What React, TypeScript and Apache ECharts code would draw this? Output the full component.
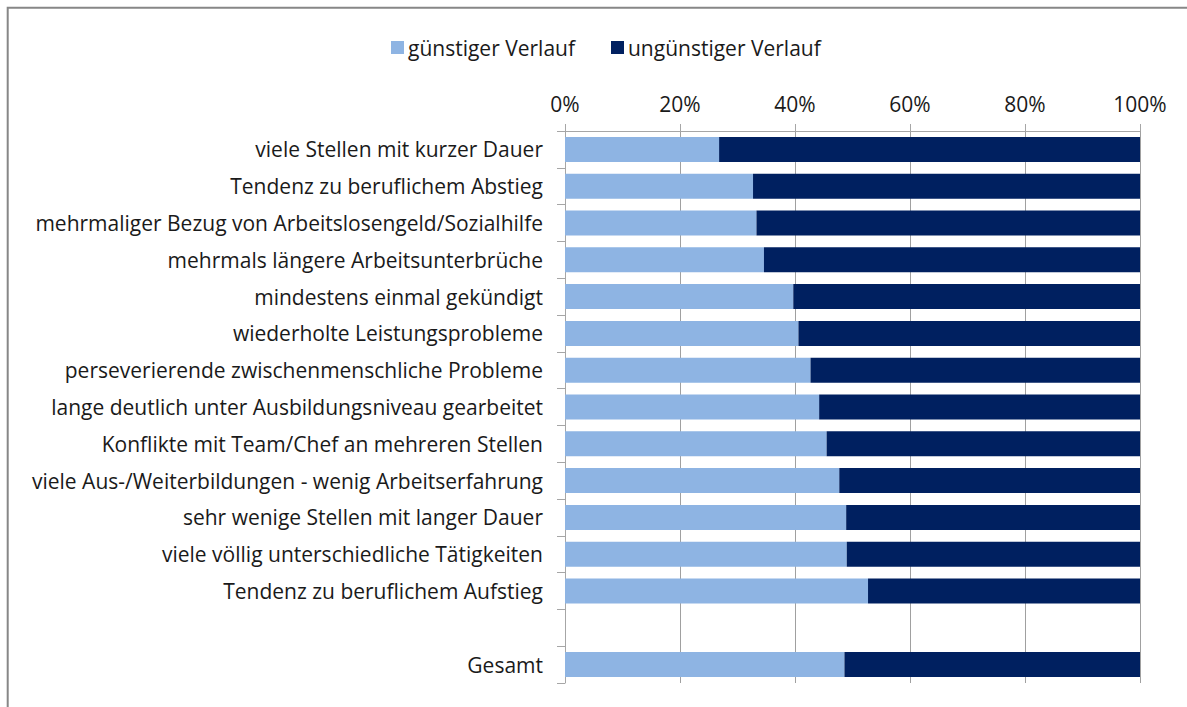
import React, { useEffect, useRef } from "react";
import * as echarts from "echarts";

const categories = [
  "viele Stellen mit kurzer Dauer",
  "Tendenz zu beruflichem Abstieg",
  "mehrmaliger Bezug von Arbeitslosengeld/Sozialhilfe",
  "mehrmals längere Arbeitsunterbrüche",
  "mindestens einmal gekündigt",
  "wiederholte Leistungsprobleme",
  "perseverierende zwischenmenschliche Probleme",
  "lange deutlich unter Ausbildungsniveau gearbeitet",
  "Konflikte mit Team/Chef an mehreren Stellen",
  "viele Aus-/Weiterbildungen - wenig Arbeitserfahrung",
  "sehr wenige Stellen mit langer Dauer",
  "viele völlig unterschiedliche Tätigkeiten",
  "Tendenz zu beruflichem Aufstieg",
  "",
  "Gesamt",
];

const favorable: (number | null)[] = [
  26.8, 32.7, 33.3, 34.6, 39.7, 40.6, 42.7, 44.2, 45.5, 47.7, 48.9, 49.0, 52.7, null, 48.6,
];

const unfavorable: (number | null)[] = [
  73.2, 67.3, 66.7, 65.4, 60.3, 59.4, 57.3, 55.8, 54.5, 52.3, 51.1, 51.0, 47.3, null, 51.4,
];

const seriesNames = ["günstiger Verlauf", "ungünstiger Verlauf"];
const xTicks = [0, 20, 40, 60, 80, 100];

const FONT = "Open Sans";
const FS = 21;

export default function App() {
  const ref = useRef<HTMLDivElement>(null);
  useEffect(() => {
    if (!ref.current) return;
    const chart = echarts.init(ref.current, undefined, { renderer: "svg" });
    chart.setOption({
      animation: false,
      backgroundColor: "#ffffff",
      textStyle: { fontFamily: FONT },
      legend: {
        top: 32,
        left: 386,
        itemWidth: 13,
        itemHeight: 13,
        itemGap: 36,
        icon: "rect",
        textStyle: { fontFamily: FONT, fontSize: FS, color: "#1a1a1a", padding: [0, 0, 0, -1] },
        data: seriesNames,
      },
      grid: { left: 565, right: 47, top: 131, bottom: 24, containLabel: false },
      xAxis: {
        type: "value",
        position: "top",
        min: xTicks[0],
        max: xTicks[xTicks.length - 1],
        interval: 20,
        axisLine: { show: true, lineStyle: { color: "#a6a6a6", width: 1 } },
        axisTick: { show: true, length: 7, inside: false, lineStyle: { color: "#a6a6a6" } },
        splitLine: { show: true, lineStyle: { color: "#a0a0a0", width: 1 } },
        axisLabel: {
          formatter: (v: number) => `${v}%`,
          fontFamily: FONT,
          fontSize: FS,
          color: "#1a1a1a",
          margin: 17,
        },
      },
      yAxis: {
        type: "category",
        inverse: true,
        data: categories,
        axisLine: { show: true, lineStyle: { color: "#a6a6a6", width: 1 } },
        axisTick: { show: true, length: 8, lineStyle: { color: "#a6a6a6" } },
        axisLabel: { fontFamily: FONT, fontSize: FS, color: "#1a1a1a", margin: 22 },
      },
      series: [
        {
          name: seriesNames[0],
          type: "bar",
          stack: "total",
          barWidth: 25,
          itemStyle: { color: "#8eb4e3" },
          data: favorable,
        },
        {
          name: seriesNames[1],
          type: "bar",
          stack: "total",
          barWidth: 25,
          itemStyle: { color: "#002060" },
          data: unfavorable,
        },
      ],
      graphic: [
        {
          type: "rect",
          silent: true,
          shape: { x: 7.7, y: 7.7, width: 1300, height: 900 },
          style: { fill: "none", stroke: "#878787", lineWidth: 2 },
        },
      ],
    });
    return () => chart.dispose();
  }, []);
  return (
    <div
      ref={ref}
      style={{ position: "fixed", left: 0, top: 0, width: 1187, height: 707 }}
    />
  );
}
